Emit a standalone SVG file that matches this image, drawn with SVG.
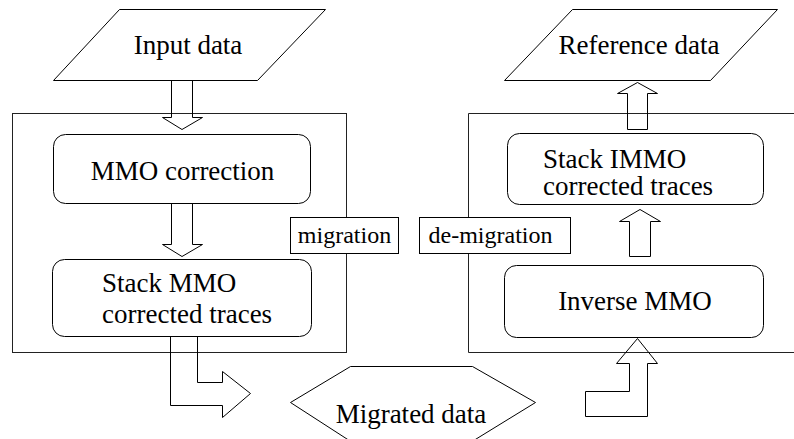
<svg xmlns="http://www.w3.org/2000/svg" width="794" height="439" viewBox="0 0 794 439">
<rect width="794" height="439" fill="#fff"/>
<g fill="none" stroke="#222" stroke-width="1">
<g id="left-panel"><rect x="12.5" y="113.5" width="334" height="239"/></g>
<g id="right-panel"><polyline points="800,113.5 468.5,113.5 468.5,352.5 800,352.5"/></g>
</g>
<g fill="#fff" stroke="#000" stroke-width="1">
<g id="input-data"><polygon points="119.5,9.5 325.5,9.5 257.5,80.5 53.5,80.5"/></g>
<g id="reference-data"><polygon points="572.5,9.5 777.5,9.5 710.5,80.5 504.5,80.5"/></g>
<g id="mmo-correction"><rect x="53.5" y="134.5" width="257" height="69" rx="12"/></g>
<g id="stack-mmo"><rect x="52.5" y="259.5" width="259" height="77" rx="12"/></g>
<g id="stack-immo"><rect x="507.5" y="133.5" width="256" height="71" rx="12"/></g>
<g id="inverse-mmo"><rect x="504.5" y="265.5" width="259" height="72" rx="12"/></g>
<g id="migration"><rect x="290.5" y="217.5" width="108" height="36"/></g>
<g id="de-migration"><rect x="419.5" y="217.5" width="151" height="36"/></g>
<g id="migrated-data"><polygon points="290.5,402.5 350.5,366.5 472.5,366.5 535.5,402.5 474.5,440 348.5,440"/></g>
</g>
<text x="188" y="54" font-size="27" font-family="'Times New Roman', 'Liberation Serif', serif" text-anchor="middle">Input data</text>
<text x="639" y="54" font-size="27" font-family="'Times New Roman', 'Liberation Serif', serif" text-anchor="middle">Reference data</text>
<text x="182.5" y="180" font-size="27" font-family="'Times New Roman', 'Liberation Serif', serif" text-anchor="middle">MMO correction</text>
<text x="102" y="292" font-size="27" font-family="'Times New Roman', 'Liberation Serif', serif">Stack MMO</text>
<text x="102" y="323" font-size="27" font-family="'Times New Roman', 'Liberation Serif', serif">corrected traces</text>
<text x="543" y="167.5" font-size="27" font-family="'Times New Roman', 'Liberation Serif', serif">Stack IMMO</text>
<text x="543" y="195" font-size="27" font-family="'Times New Roman', 'Liberation Serif', serif">corrected traces</text>
<text x="635" y="310" font-size="27" font-family="'Times New Roman', 'Liberation Serif', serif" text-anchor="middle">Inverse MMO</text>
<text x="344.5" y="243" font-size="24" font-family="'Times New Roman', 'Liberation Serif', serif" text-anchor="middle">migration</text>
<text x="490.5" y="243" font-size="24" font-family="'Times New Roman', 'Liberation Serif', serif" text-anchor="middle">de-migration</text>
<text x="411" y="422.5" font-size="27" font-family="'Times New Roman', 'Liberation Serif', serif" text-anchor="middle">Migrated data</text>
<g id="connectors" fill="none" stroke="#000" stroke-width="1">
<polygon points="171.5,80.5 192.5,80.5 192.5,117.5 202.5,117.5 182,129.5 162.5,117.5 171.5,117.5"/>
<polygon points="171.5,203.5 192.5,203.5 192.5,244.5 202.5,244.5 182,256.5 162.5,244.5 171.5,244.5"/>
<polygon points="170.5,336.5 197.5,336.5 197.5,382.5 222.5,382.5 222.5,371.5 250.5,393.5 222.5,417.5 222.5,405.5 170.5,405.5"/>
<polygon points="627.5,129.5 647.5,129.5 647.5,93.5 657.5,93.5 637.5,82.5 617.5,93.5 627.5,93.5"/>
<polygon points="629.5,256.5 650.5,256.5 650.5,221.5 660.5,221.5 640,209.5 619.5,221.5 629.5,221.5"/>
<polygon points="585.5,416.5 647.5,416.5 647.5,363.5 657.5,363.5 637.5,338.5 616.5,363.5 629.5,363.5 629.5,391.5 585.5,391.5"/>
</g>
</svg>
